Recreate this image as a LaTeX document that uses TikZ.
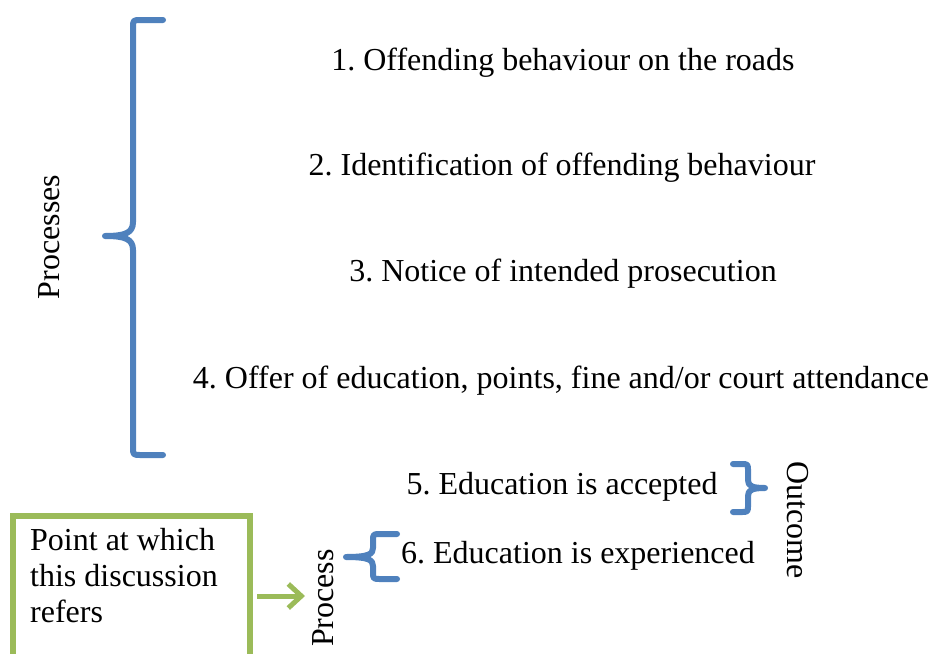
\documentclass[tikz,border=0pt]{standalone}
\usepackage{fontspec}
\setmainfont{Liberation Serif}
\usetikzlibrary{arrows.meta}
\definecolor{braceblue}{HTML}{4F81BD}
\definecolor{boxgreen}{HTML}{9BBB59}
\frenchspacing
\tikzset{
  bracepath/.style={draw=braceblue, line width=6pt, line join=round, line cap=round},
  item/.style={font=\fontsize{32}{36}\selectfont, inner sep=0pt, anchor=base},
  sidelabel/.style={font=\fontsize{32}{36}\selectfont, inner sep=0pt, anchor=base},
  greenarrow/.style={draw=boxgreen, line width=5pt, -{Straight Barb[length=13pt,width=24pt,line width=5pt]}},
}
\begin{document}
\begin{tikzpicture}[x=1pt,y=-1pt]
\useasboundingbox (0,0) rectangle (933,653);
% items
\node[item] (i1) at (563,70) {1. Offending behaviour on the roads};
\node[item] (i2) at (562,175) {2. Identification of offending behaviour};
\node[item] (i3) at (563,281) {3. Notice of intended prosecution};
\node[item] (i4) at (561,388) {4. Offer of education, points, fine and/or court attendance};
\node[item] (i5) at (562,494) {5. Education is accepted};
\node[item] (i6) at (578,563) {6. Education is experienced};
% big brace
\draw[bracepath] (163,20) -- (141,20) .. controls (133,20) .. (133,28) -- (133,222)
  .. controls (133,233) and (125,236) .. (105,236)
  .. controls (125,236) and (133,239) .. (133,250) -- (133,447)
  .. controls (133,455) .. (141,455) -- (163,455);
\node[sidelabel, rotate=90] (procs) at (59,237) {Processes};
% outcome brace
\draw[bracepath] (733,464) -- (741,464) .. controls (748,464) .. (748,471) -- (748,480)
  .. controls (748,486) and (752,488) .. (765,488)
  .. controls (752,488) and (748,490) .. (748,496) -- (748,505)
  .. controls (748,512) .. (741,512) -- (733,512);
\node[sidelabel, rotate=-90] (outc) at (787,520) {Outcome};
% process brace
\draw[bracepath] (397,534) -- (381,534) .. controls (373,534) .. (373,541) -- (373,548)
  .. controls (373,554) and (369,557) .. (346,557)
  .. controls (369,557) and (373,560) .. (373,566) -- (373,572)
  .. controls (373,579) .. (381,579) -- (397,579);
\node[sidelabel, rotate=90] (proc) at (333,598) {Process};
% green box
\draw[draw=boxgreen, line width=6pt] (250,680) -- (250,516) -- (13,516) -- (13,680);
\node[font=\fontsize{32}{36}\selectfont, align=left, anchor=base west, inner sep=0pt] (note) at (30,622)
  {Point at which\\this discussion\\refers};
\coordinate (arrs) at (257,596);
\coordinate (arre) at (305,596);
\draw[greenarrow] (arrs) -- (arre);
\end{tikzpicture}
\end{document}
